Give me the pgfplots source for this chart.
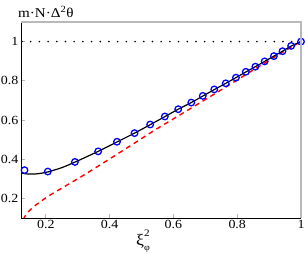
\documentclass[border=0pt]{standalone}
\usepackage{fontspec}
\setmainfont{Liberation Serif}[FakeStretch=1.12]
\usepackage{pgfplots}
\pgfplotsset{compat=1.18}
\definecolor{cblue}{RGB}{0,0,255}
\definecolor{cred}{RGB}{255,0,0}
\begin{document}
\fontsize{12.5}{15}\selectfont
\begin{tikzpicture}
\begin{axis}[
  at={(21bp,36bp)}, anchor=south west,
  scale only axis, width=280bp, height=196bp,
  xmin=0.122, xmax=1, ymin=0.1, ymax=1.1,
  axis x line*=bottom, axis y line*=left,
  axis line style={black, line width=0.8pt},
  xtick={0.2,0.4,0.6,0.8,1}, ytick={0.2,0.4,0.6,0.8,1},
  tick align=inside, major tick length=4bp,
  tick style={gray!60, line width=0.8pt},
  /pgf/number format/assume math mode=true,
  ticklabel style={font=\fontsize{12.5}{15}\selectfont},
  yticklabel style={inner xsep=0pt, xshift=-2.5bp},
  xticklabel style={inner ysep=0pt, yshift=-2.5bp},
  clip=true,
]
% dotted reference at 1
\addplot[black, line width=1.8pt, dash pattern=on 0pt off 8.7bp, line cap=round] coordinates {(0.125,1) (1,1)};
% red dashed
\addplot[cred, line width=1.4pt, dash pattern=on 5bp off 4bp, smooth] coordinates {
(0.129,0.092) (0.136,0.113) (0.145,0.132) (0.16,0.155) (0.18,0.180) (0.208,0.212) (0.26,0.262)
(0.312,0.312) (0.416,0.418) (0.468,0.472) (0.545,0.552) (0.65,0.655)
(0.764,0.768) (0.85,0.855) (0.95,0.953) (1,1)};
% black curve
\addplot[black, line width=1.2pt, smooth] coordinates {
(0.122,0.330) (0.14,0.325) (0.16,0.324) (0.18,0.327) (0.206,0.335) (0.25,0.357)
(0.291,0.385) (0.364,0.440) (0.423,0.488) (0.478,0.533) (0.527,0.576) (0.573,0.617)
(0.615,0.655) (0.656,0.689) (0.692,0.722) (0.728,0.755) (0.764,0.787) (0.796,0.816)
(0.827,0.845) (0.857,0.872) (0.886,0.899) (0.915,0.926) (0.942,0.951) (0.969,0.977) (1,1)};
% blue circles
\addplot[only marks, mark=o, mark size=3.3pt, cblue, mark options={line width=1.3pt}] coordinates {
(0.133,0.344) (0.206,0.337) (0.291,0.386) (0.364,0.440) (0.423,0.489) (0.478,0.533)
(0.527,0.577) (0.573,0.618) (0.615,0.655) (0.656,0.689) (0.692,0.723) (0.728,0.756)
(0.764,0.787) (0.796,0.816) (0.827,0.846) (0.857,0.872) (0.886,0.899) (0.915,0.926)
(0.942,0.951) (0.969,0.978) (1,1)};
\end{axis}
\draw[gray!55, line width=1.6pt] (21bp,232bp) -- (301bp,232bp) -- (301bp,36bp);
\node[anchor=base west, inner sep=0pt] at (18bp,236bp) {\fontsize{13.5}{15}\selectfont m·N·Δ\textsuperscript{2}θ};
\node[anchor=base west, inner sep=0pt] at (136bp,9bp) {\fontsize{16}{18}\selectfont ξ\rlap{\raisebox{9pt}{\fontsize{10}{11}\selectfont 2}}\raisebox{-6pt}{\fontsize{9}{10}\selectfont φ}};
\pgfresetboundingbox
\path (0,0) rectangle (305bp,254bp);
\end{tikzpicture}
\end{document}
